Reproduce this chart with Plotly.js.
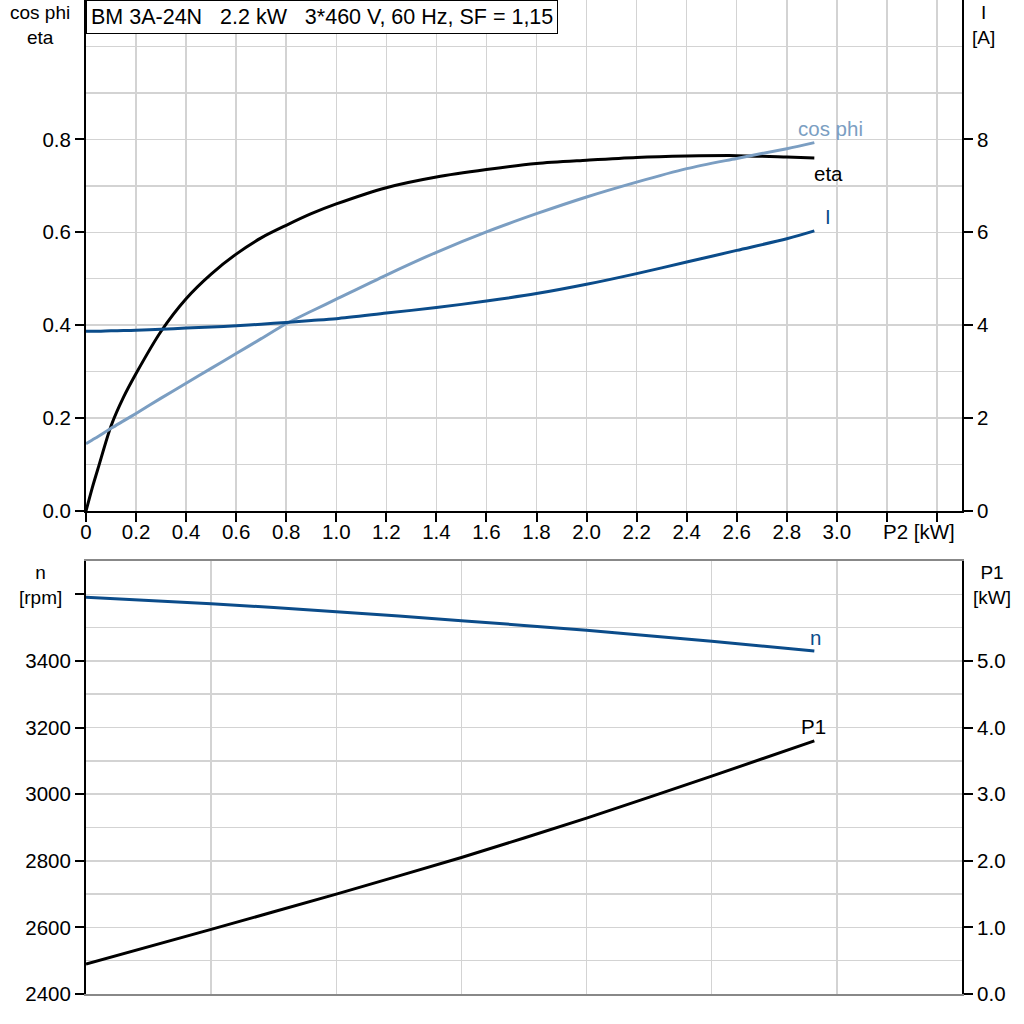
<!DOCTYPE html>
<html>
<head>
<meta charset="utf-8">
<script src="https://cdn.plot.ly/plotly-3.0.1.min.js"></script>
<style>html,body{margin:0;padding:0;background:#fff;}#chart{width:1024px;height:1024px;}</style>
</head>
<body>
<div id="chart"></div>
<script>
// ---- Data ----
var p2Top   = [0, 0.025, 0.05, 0.1, 0.15, 0.2, 0.3, 0.4, 0.5, 0.6, 0.7, 0.8, 0.9, 1.0, 1.2, 1.4, 1.6, 1.8, 2.0, 2.2, 2.4, 2.6, 2.8, 2.91];
var etaVals = [0, 0.05, 0.095, 0.183, 0.245, 0.296, 0.387, 0.457, 0.510, 0.553, 0.588, 0.615, 0.640, 0.661, 0.696, 0.719, 0.735, 0.748, 0.755, 0.761, 0.764, 0.765, 0.762, 0.760];
var cosVals = [0.145, 0.153, 0.161, 0.178, 0.194, 0.210, 0.243, 0.275, 0.307, 0.339, 0.371, 0.403, 0.430, 0.456, 0.508, 0.557, 0.601, 0.640, 0.676, 0.708, 0.737, 0.759, 0.780, 0.793];
var iVals   = [3.87, 3.87, 3.87, 3.88, 3.885, 3.89, 3.91, 3.94, 3.96, 3.99, 4.02, 4.06, 4.10, 4.14, 4.26, 4.38, 4.52, 4.68, 4.88, 5.11, 5.36, 5.61, 5.86, 6.03];

var p2Bot   = [0, 0.5, 1.0, 1.5, 2.0, 2.5, 2.91];
var nVals   = [3591, 3572, 3548, 3521, 3492, 3459, 3430];
var p1Vals  = [0.45, 0.97, 1.50, 2.05, 2.64, 3.27, 3.80];

var xTickVals  = [0,0.2,0.4,0.6,0.8,1.0,1.2,1.4,1.6,1.8,2.0,2.2,2.4,2.6,2.8,3.0,3.2,3.4];
var xTickText  = ['0','0.2','0.4','0.6','0.8','1.0','1.2','1.4','1.6','1.8','2.0','2.2','2.4','2.6','2.8','3.0','',''];
var yTickVals  = [0,0.2,0.4,0.6,0.8];
var yTickText  = ['0.0','0.2','0.4','0.6','0.8'];
var iTickVals  = [0,2,4,6,8];
var nTickVals  = [2400,2600,2800,3000,3200,3400,3600];
var nTickText  = ['2400','2600','2800','3000','3200','3400',''];
var p1TickVals = [0,1,2,3,4,5];
var p1TickText = ['0.0','1.0','2.0','3.0','4.0','5.0'];
var titleText  = 'BM 3A-24N&nbsp;&nbsp;&nbsp;2.2 kW&nbsp;&nbsp;&nbsp;3*460 V, 60 Hz, SF = 1,15';

// ---- Styles ----
var cBlack = '#000000', cLight = '#7b9ec2', cDark = '#0b4c8a', cGrid = '#d3d3d3';
var F = 'Liberation Sans, Arial, sans-serif';
var FS = 20.5;

var traces = [
  {x:p2Top, y:etaVals, xaxis:'x', yaxis:'y', mode:'lines', line:{color:cBlack, width:3, shape:'spline', smoothing:0.8}, hoverinfo:'skip'},
  {x:p2Top, y:cosVals, xaxis:'x', yaxis:'y', mode:'lines', line:{color:cLight, width:3, shape:'spline', smoothing:0.8}, hoverinfo:'skip'},
  {x:p2Top, y:iVals, xaxis:'x', yaxis:'y2', mode:'lines', line:{color:cDark, width:3, shape:'spline', smoothing:0.8}, hoverinfo:'skip'},
  {x:p2Bot, y:nVals, xaxis:'x2', yaxis:'y3', mode:'lines', line:{color:cDark, width:3, shape:'spline', smoothing:0.6}, hoverinfo:'skip'},
  {x:p2Bot, y:p1Vals, xaxis:'x2', yaxis:'y4', mode:'lines', line:{color:cBlack, width:3, shape:'spline', smoothing:0.6}, hoverinfo:'skip'}
];

function range(a, b, s){ var r=[]; for (var v=a; v<=b+1e-9; v+=s) r.push(Math.round(v*1000)/1000); return r; }

var tickCommon = {ticks:'outside', ticklen:9, tickwidth:2, tickcolor:'#000', showline:true, linecolor:'#000', linewidth:2, zeroline:false, tickfont:{size:FS}};

function lab(x, y, t, anchor){ return {xref:'paper', yref:'paper', x:x, y:y, xanchor:'center', yanchor:anchor, text:t, showarrow:false, font:{size:19}}; }

var layout = {
  width:1024, height:1024,
  margin:{l:86, r:62, t:0, b:30},
  paper_bgcolor:'#ffffff', plot_bgcolor:'#ffffff',
  showlegend:false,
  font:{family:F, size:FS, color:'#000'},
  xaxis:Object.assign({}, tickCommon, {domain:[0,1], anchor:'y', range:[0,3.5], tickmode:'array', tickvals:xTickVals, ticktext:xTickText,
         mirror:true, showgrid:true, gridcolor:cGrid, gridwidth:1.5, ticklabelstandoff:-8}),
  yaxis:Object.assign({}, tickCommon, {domain:[0.4859,1], anchor:'x', range:[0,1.1], tickmode:'array', tickvals:yTickVals, ticktext:yTickText,
         showgrid:true, gridcolor:cGrid, gridwidth:1.5,
         minor:{tickmode:'array', tickvals:range(0.1,1.1,0.1), showgrid:true, gridcolor:cGrid, gridwidth:1.5, ticks:''}}),
  yaxis2:Object.assign({}, tickCommon, {overlaying:'y', anchor:'x', side:'right', range:[0,11], tickmode:'array', tickvals:iTickVals, showgrid:false}),
  xaxis2:{domain:[0,1], anchor:'y3', range:[0,3.5], tickmode:'array', tickvals:range(0,3.5,0.5), showticklabels:false,
          ticks:'', showline:true, linecolor:'#888888', linewidth:2, mirror:true,
          showgrid:true, gridcolor:cGrid, gridwidth:1.5, zeroline:false},
  yaxis3:Object.assign({}, tickCommon, {domain:[0,0.4356], anchor:'x2', range:[2400,3700], tickmode:'array', tickvals:nTickVals, ticktext:nTickText,
          showgrid:true, gridcolor:cGrid, gridwidth:1.5,
          minor:{tickmode:'array', tickvals:range(2500,3700,100), showgrid:true, gridcolor:cGrid, gridwidth:1.5, ticks:''}}),
  yaxis4:Object.assign({}, tickCommon, {overlaying:'y3', anchor:'x2', side:'right', range:[0,6.5], tickmode:'array', tickvals:p1TickVals, ticktext:p1TickText, showgrid:false}),
  annotations:[
    {xref:'paper', yref:'paper', x:0, y:1, xanchor:'left', yanchor:'top', text:titleText, showarrow:false,
     font:{size:21.5, color:'#000'}, bgcolor:'#ffffff', bordercolor:'#000', borderwidth:1, borderpad:4},
    lab(-0.0525, 1, 'cos phi<br>eta', 'top'),
    lab(1.025, 1, 'I<br>[A]', 'top'),
    lab(-0.0525, 0.4115, 'n<br>[rpm]', 'middle'),
    lab(1.034, 0.4115, 'P1<br>[kW]', 'middle'),
    {xref:'x', yref:'paper', x:3.33, y:0.4859, yshift:-20, xanchor:'center', yanchor:'middle', text:'P2 [kW]', showarrow:false},
    {xref:'x', yref:'y', x:2.976, y:0.824, text:'cos phi', showarrow:false, font:{color:cLight}},
    {xref:'x', yref:'y', x:2.968, y:0.727, text:'eta', showarrow:false, font:{color:cBlack}},
    {xref:'x', yref:'y', x:2.964, y:0.634, text:'I', showarrow:false, font:{color:cDark}},
    {xref:'x2', yref:'y3', x:2.916, y:3471, text:'n', showarrow:false, font:{color:cDark}},
    {xref:'x2', yref:'y3', x:2.908, y:3204, text:'P1', showarrow:false, font:{color:cBlack}}
  ]
};

Plotly.newPlot('chart', traces, layout, {staticPlot:true, displayModeBar:false});
</script>
</body>
</html>
